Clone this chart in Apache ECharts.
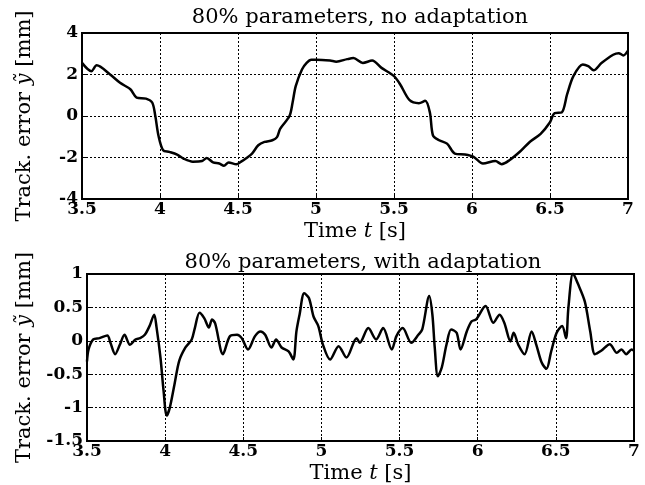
<!DOCTYPE html>
<html>
<head>
<meta charset="utf-8">
<script src="https://cdn.jsdelivr.net/npm/echarts@6/dist/echarts.min.js"></script>
<style>
  html, body { margin: 0; padding: 0; background: #fff; }
  #main { width: 645px; height: 485px; }
</style>
</head>
<body>
<div id="main"></div>
<script>
// 上图：80%参数，无自适应
var timeTop = [3.50, 3.56, 3.594, 3.68, 3.744, 3.81, 3.85, 3.91, 3.95, 3.97, 3.99, 4.02, 4.06, 4.11, 4.15, 4.21, 4.27, 4.30, 4.34,
  4.38, 4.41, 4.44, 4.49, 4.52, 4.55, 4.59, 4.63, 4.67, 4.72, 4.75, 4.77, 4.83, 4.85, 4.87, 4.91, 4.94, 4.97, 5.00, 5.09, 5.13,
  5.20, 5.24, 5.30, 5.36, 5.42, 5.50, 5.54, 5.60, 5.66, 5.70, 5.73, 5.75, 5.79, 5.84, 5.89, 5.955, 6.01, 6.07, 6.15, 6.19,
  6.24, 6.31, 6.37, 6.44, 6.50, 6.53, 6.575, 6.61, 6.65, 6.71, 6.745, 6.78, 6.83, 6.905, 6.94, 6.97, 7.00];
var errTop = [2.56, 2.16, 2.44, 2.0, 1.6, 1.29, 0.89, 0.84, 0.65, 0.0, -0.94, -1.65, -1.73, -1.86, -2.05, -2.2, -2.17, -2.02, -2.24,
  -2.29, -2.4, -2.24, -2.33, -2.2, -2.05, -1.81, -1.41, -1.25, -1.17, -1.02, -0.62, 0.0, 0.65, 1.44, 2.24, 2.56, 2.71, 2.71, 2.67, 2.62,
  2.74, 2.79, 2.56, 2.67, 2.32, 1.92, 1.52, 0.76, 0.62, 0.73, 0.17, -0.94, -1.17, -1.33, -1.81, -1.86, -1.97, -2.29, -2.17, -2.32,
  -2.13, -1.7, -1.25, -0.86, -0.3, 0.14, 0.17, 1.05, 1.92, 2.48, 2.4, 2.2, 2.55, 2.95, 3.03, 2.92, 3.15];

// 下图：80%参数，有自适应
var timeBot = [3.50, 3.51, 3.54, 3.58, 3.63, 3.65, 3.68, 3.71, 3.74, 3.775, 3.81, 3.84, 3.87, 3.90, 3.93, 3.945, 3.97, 3.99, 4.01,
  4.03, 4.06, 4.09, 4.13, 4.17, 4.19, 4.22, 4.25, 4.28, 4.30, 4.32, 4.37, 4.415, 4.46, 4.49, 4.53, 4.575, 4.61, 4.64, 4.68, 4.71,
  4.745, 4.79, 4.82, 4.84, 4.86, 4.89, 4.92, 4.95, 4.98, 5.01, 5.055, 5.11, 5.16, 5.225, 5.245, 5.30, 5.35, 5.395, 5.45, 5.48,
  5.52, 5.575, 5.62, 5.645, 5.69, 5.71, 5.725, 5.745, 5.77, 5.80, 5.83, 5.865, 5.89, 5.93, 5.96, 5.99, 6.05, 6.10, 6.14, 6.17,
  6.21, 6.23, 6.26, 6.30, 6.345, 6.375, 6.41, 6.44, 6.47, 6.505, 6.54, 6.565, 6.58, 6.61, 6.64, 6.685, 6.72, 6.75, 6.79, 6.845,
  6.89, 6.92, 6.95, 6.985, 7.00];
var errBot = [-0.31, -0.13, 0.02, 0.04, 0.08, -0.03, -0.2, -0.06, 0.09, -0.06, 0.02, 0.04, 0.09, 0.22, 0.39, 0.2, -0.25, -0.75, -1.12,
  -1.0, -0.65, -0.3, -0.1, 0.02, 0.19, 0.42, 0.34, 0.2, 0.32, 0.26, -0.2, 0.07, 0.09, 0.04, -0.13, 0.07, 0.14, 0.09, -0.1, 0.02,
  -0.1, -0.16, -0.28, 0.14, 0.39, 0.71, 0.64, 0.36, 0.22, -0.06, -0.28, -0.08, -0.25, 0.04, -0.03, 0.19, 0.02, 0.19, -0.13, 0.07,
  0.19, -0.03, 0.09, 0.17, 0.67, 0.39, -0.1, -0.53, -0.4, -0.06, 0.17, 0.12, -0.13, 0.14, 0.29, 0.32, 0.52, 0.27, 0.39, 0.27,
  -0.01, 0.12, -0.06, -0.2, 0.14, -0.06, -0.33, -0.42, -0.16, 0.12, 0.22, 0.04, 0.49, 1.01, 0.86, 0.59, 0.14, -0.2, -0.15, -0.05,
  -0.18, -0.13, -0.2, -0.13, -0.15];

var titleTop = '80% parameters, no adaptation';
var titleBot = '80% parameters, with adaptation';

function pairs(xs, ys) {
  var out = [];
  for (var i = 0; i < xs.length; i++) {
    out.push([xs[i], ys[i]]);
  }
  return out;
}

var serif = 'DejaVu Serif';
var dotted = { show: true, lineStyle: { color: '#000', width: 1, type: [2, 2] } };
var nameRich = {
  n: { fontFamily: serif, fontSize: 21, color: '#000' },
  i: { fontFamily: serif, fontSize: 21, fontStyle: 'italic', color: '#000' }
};

function xAxisCfg(idx) {
  return {
    type: 'value', gridIndex: idx, min: 3.5, max: 7, interval: 0.5,
    name: '{n|Time }{i|t}{n| [s]}', nameLocation: 'middle', nameGap: 22,
    nameTextStyle: { rich: nameRich },
    axisLine: { show: true, onZero: false, lineStyle: { color: '#000', width: 2 } },
    axisTick: { show: true, inside: true, length: 4, lineStyle: { color: '#000' } },
    axisLabel: { color: '#000', fontFamily: serif, fontSize: 17, fontWeight: 600, margin: 2, showMinLabel: true, showMaxLabel: true },
    splitLine: dotted
  };
}

function yAxisCfg(idx, min, max, step, gap) {
  return {
    type: 'value', gridIndex: idx, min: min, max: max, interval: step,
    name: '{n|Track. error }{i|ỹ}{n| [mm]}', nameLocation: 'middle', nameGap: gap,
    nameTextStyle: { rich: nameRich },
    axisLine: { show: true, onZero: false, lineStyle: { color: '#000', width: 2 } },
    axisTick: { show: true, inside: true, length: 4, lineStyle: { color: '#000' } },
    axisLabel: { color: '#000', fontFamily: serif, fontSize: 17, fontWeight: 600, margin: 4 },
    splitLine: dotted
  };
}

var myChart = echarts.init(document.getElementById('main'));
var option = {
  backgroundColor: '#fff',
  animation: false,
  title: [
    { text: titleTop, left: 355, top: 2, textAlign: 'center',
      textStyle: { fontFamily: serif, fontSize: 21, fontWeight: 'normal', color: '#000' } },
    { text: titleBot, left: 358, top: 247, textAlign: 'center',
      textStyle: { fontFamily: serif, fontSize: 21, fontWeight: 'normal', color: '#000' } }
  ],
  grid: [
    { left: 82, top: 33, width: 546, height: 166, show: true, borderColor: '#000', borderWidth: 2 },
    { left: 87, top: 274, width: 547, height: 168, show: true, borderColor: '#000', borderWidth: 2 }
  ],
  xAxis: [xAxisCfg(0), xAxisCfg(1)],
  yAxis: [yAxisCfg(0, -4, 4, 2, 47), yAxisCfg(1, -1.5, 1, 0.5, 50)],
  series: [
    {
      name: titleTop, type: 'line', xAxisIndex: 0, yAxisIndex: 0,
      data: pairs(timeTop, errTop), showSymbol: false, smooth: 0.3,
      lineStyle: { color: '#000', width: 2.5 }
    },
    {
      name: titleBot, type: 'line', xAxisIndex: 1, yAxisIndex: 1,
      data: pairs(timeBot, errBot), showSymbol: false, smooth: 0.3,
      lineStyle: { color: '#000', width: 2.5 }
    }
  ]
};
myChart.setOption(option);
window.onresize = myChart.resize;
</script>
</body>
</html>
